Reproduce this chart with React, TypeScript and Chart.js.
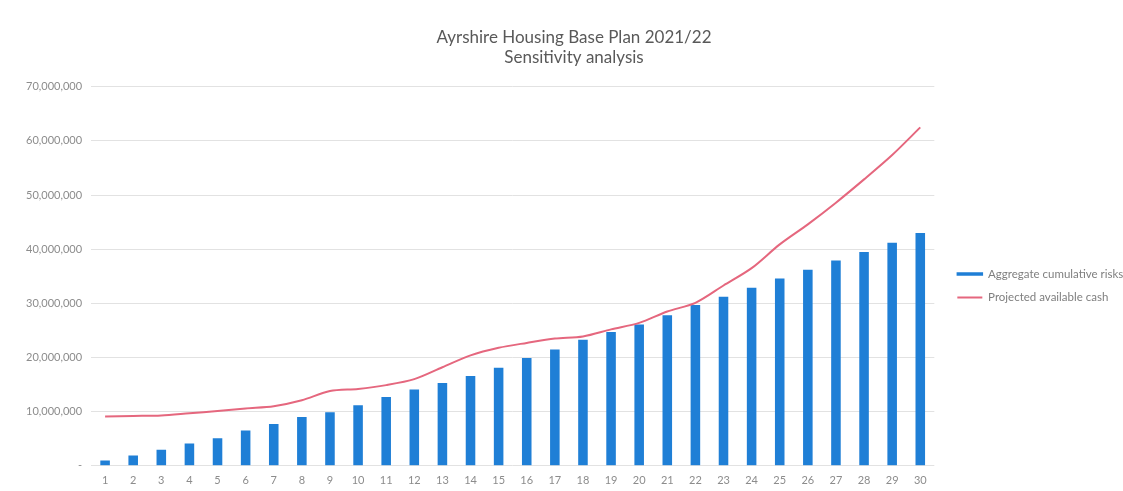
import React, { useEffect, useRef } from "react";
import { Chart, registerables } from "chart.js";

Chart.register(...registerables);

const categories: string[] = Array.from({ length: 30 }, (_, i) => String(i + 1));

const aggregateRisks: number[] = [
  1.0e6, 1.9e6, 2.95e6, 4.1e6, 5.1e6, 6.5e6, 7.7e6, 9.0e6, 9.9e6, 11.2e6,
  12.7e6, 14.1e6, 15.3e6, 16.6e6, 18.1e6, 19.9e6, 21.5e6, 23.3e6, 24.7e6, 26.1e6,
  27.8e6, 29.7e6, 31.2e6, 32.9e6, 34.6e6, 36.2e6, 37.9e6, 39.5e6, 41.2e6, 43.0e6,
];

const projectedCash: number[] = [
  9.1e6, 9.2e6, 9.3e6, 9.7e6, 10.1e6, 10.6e6, 11.0e6, 12.1e6, 13.8e6, 14.2e6,
  14.9e6, 16.0e6, 18.2e6, 20.4e6, 21.8e6, 22.7e6, 23.5e6, 23.9e6, 25.2e6, 26.4e6,
  28.5e6, 30.1e6, 33.3e6, 36.5e6, 40.9e6, 44.6e6, 48.6e6, 52.9e6, 57.4e6, 62.5e6,
];

const titleLines: string[] = ["Ayrshire Housing Base Plan 2021/22", "Sensitivity analysis"];
const seriesNames: string[] = ["Aggregate cumulative risks", "Projected available cash"];

const FONT = "Lato, 'Open Sans', sans-serif";
const BAR_COLOR = "#1f7fd6";
const LINE_COLOR = "#e5677e";

export default function App() {
  const ref = useRef<HTMLCanvasElement | null>(null);

  useEffect(() => {
    document.body.style.margin = "0";
    if (!ref.current) return;
    const chart = new Chart(ref.current, {
      type: "bar",
      data: {
        labels: categories,
        datasets: [
          {
            type: "line",
            label: seriesNames[1],
            data: projectedCash,
            borderColor: LINE_COLOR,
            backgroundColor: LINE_COLOR,
            borderWidth: 2,
            pointRadius: 0,
            tension: 0.3,
            order: 0,
          },
          {
            type: "bar",
            label: seriesNames[0],
            data: aggregateRisks,
            backgroundColor: BAR_COLOR,
            borderWidth: 0,
            categoryPercentage: 1,
            barPercentage: 0.34,
            order: 1,
          },
        ],
      },
      options: {
        animation: false,
        responsive: true,
        maintainAspectRatio: false,
        layout: { padding: { left: 17, right: -8, top: 0, bottom: 4 } },
        plugins: {
          title: {
            display: true,
            text: titleLines,
            color: "#595959",
            font: { family: FONT, size: 17, weight: "normal" },
            padding: { top: 27, bottom: 19 },
            lineHeight: 1.25,
          },
          legend: {
            position: "right",
            reverse: true,
            title: { display: true, text: "", padding: { top: 70, bottom: 0 } },
            labels: {
              boxWidth: 25,
              boxHeight: 2,
              color: "#7f7f7f",
              font: { family: FONT, size: 11.5 },
              padding: 12,
              generateLabels: (c: any) => {
                const items = Chart.defaults.plugins.legend.labels.generateLabels(c);
                return items.map((it: any) => {
                  const ds = c.data.datasets[it.datasetIndex];
                  if (ds.type === "line") {
                    return { ...it, lineWidth: 0, fillStyle: LINE_COLOR };
                  }
                  return { ...it, lineWidth: 1.5, strokeStyle: BAR_COLOR, fillStyle: BAR_COLOR };
                });
              },
            },
          },
          tooltip: { enabled: false },
        },
        scales: {
          x: {
            grid: { display: false },
            border: { display: false },
            ticks: {
              color: "#8c8c8c",
              font: { family: FONT, size: 11 },
              padding: 0,
              maxRotation: 0,
              autoSkip: false,
            },
          },
          y: {
            min: 0,
            max: 70000000,
            border: { display: false },
            grid: { color: "#e2e2e2", drawTicks: false },
            ticks: {
              stepSize: 10000000,
              color: "#8c8c8c",
              font: { family: FONT, size: 11 },
              padding: 9,
              callback: (v: any) => (Number(v) === 0 ? "-" : Number(v).toLocaleString("en-US")),
            },
          },
          gap: {
            type: "linear",
            position: "right",
            display: true,
            grid: { display: false },
            border: { display: false },
            ticks: { display: false },
            afterFit: (scale: any) => {
              scale.width = 11;
            },
          },
        },
      },
    });
    return () => chart.destroy();
  }, []);

  return (
    <div style={{ position: "absolute", left: 0, top: 0, width: 1123, height: 491, background: "#fff" }}>
      <canvas ref={ref} />
    </div>
  );
}
